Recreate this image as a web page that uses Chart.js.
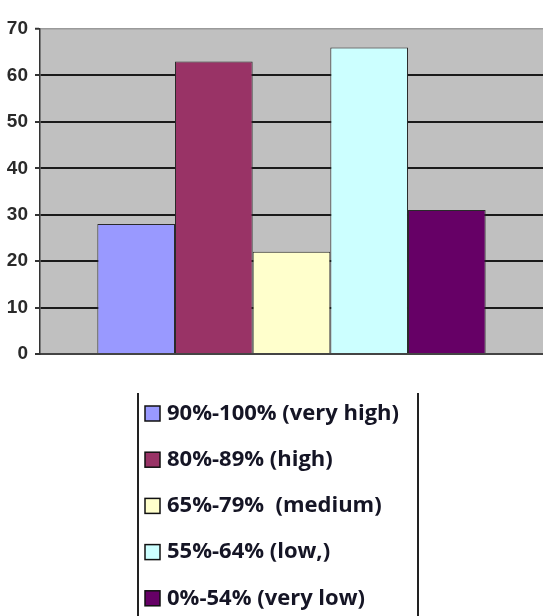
<!DOCTYPE html>
<html>
<head>
<meta charset="utf-8">
<script src="https://cdn.jsdelivr.net/npm/chart.js@4/dist/chart.umd.min.js"></script>
<style>
  html, body { margin: 0; padding: 0; background: #ffffff; }
  #wrap { width: 543px; height: 616px; }
</style>
</head>
<body>
<div id="wrap"><canvas id="c" width="543" height="616"></canvas></div>
<script>
// Share of respondents per score band
const bandLabels = [
  '90%-100% (very high)',
  '80%-89% (high)',
  '65%-79%  (medium)',
  '55%-64% (low,)',
  '0%-54% (very low)'
];
const bandValues = [28, 63, 22, 66, 31];
const bandColors = ['#9999ff', '#993366', '#ffffcc', '#ccffff', '#660066'];
const yTicks = [0, 10, 20, 30, 40, 50, 60, 70];

const datasets = bandLabels.map((label, i) => ({
  label: label,
  data: [bandValues[i]],
  backgroundColor: bandColors[i],
  borderColor: '#2a2a2a',
  borderWidth: 1,
  borderSkipped: 'bottom',
  categoryPercentage: 0.772,
  barPercentage: 1.0
}));

// Grey plot background behind the grid
const plotBackground = {
  id: 'plotBackground',
  beforeDraw(chart) {
    const { ctx, chartArea: a } = chart;
    ctx.save();
    ctx.fillStyle = '#c0c0c0';
    ctx.fillRect(a.left, a.top, a.right - a.left, a.bottom - a.top);
    ctx.restore();
  }
};

// Vertical legend panel under the plot
const bandLegend = {
  id: 'bandLegend',
  afterDraw(chart) {
    const { ctx } = chart;
    const boxLeft = 138, boxRight = 418, boxTop = 393, boxBottom = 616;
    const firstY = 413.5, stepY = 46.2;
    ctx.save();
    ctx.strokeStyle = '#222';
    ctx.lineWidth = 2;
    ctx.beginPath();
    ctx.moveTo(boxLeft, boxTop); ctx.lineTo(boxLeft, boxBottom);
    ctx.moveTo(boxRight, boxTop); ctx.lineTo(boxRight, boxBottom);
    ctx.stroke();
    ctx.font = 'bold 22px "Open Sans", "Noto Sans", sans-serif';
    ctx.textBaseline = 'middle';
    ctx.textAlign = 'left';
    chart.data.datasets.forEach((ds, i) => {
      const cy = firstY + i * stepY;
      ctx.fillStyle = ds.backgroundColor;
      ctx.fillRect(145, cy - 7.5, 15, 15);
      ctx.strokeStyle = '#111';
      ctx.lineWidth = 1.5;
      ctx.strokeRect(145, cy - 7.5, 15, 15);
      ctx.fillStyle = '#151525';
      ctx.fillText(ds.label, 167, cy);
    });
    ctx.restore();
  }
};

new Chart(document.getElementById('c'), {
  type: 'bar',
  data: { labels: [''], datasets: datasets },
  options: {
    responsive: false,
    devicePixelRatio: 1,
    animation: false,
    layout: { padding: { top: 29, left: 0, right: 0, bottom: 262 } },
    plugins: { legend: { display: false }, tooltip: { enabled: false } },
    scales: {
      x: {
        ticks: { display: false },
        grid: { display: false },
        border: { color: '#444', width: 2 },
        afterFit(s) { s.height = 0; }
      },
      y: {
        min: yTicks[0],
        max: yTicks[yTicks.length - 1],
        afterBuildTicks(s) { s.ticks = yTicks.map(v => ({ value: v })); },
        ticks: {
          padding: 7,
          color: '#2a2a2a',
          font: { family: '"Liberation Sans Narrow", "Liberation Sans", sans-serif', size: 19, weight: 'bold' }
        },
        grid: {
          color: c => (c.tick && c.tick.value === 70 ? '#9a9a9a' : '#1a1a1a'),
          lineWidth: c => (c.tick && c.tick.value === 70 ? 1.5 : 2),
          tickLength: 5,
          tickColor: '#333',
          tickWidth: 2
        },
        border: { color: '#333', width: 1.5 },
        afterFit(s) { s.width = 40; }
      }
    }
  },
  plugins: [plotBackground, bandLegend]
});
</script>
</body>
</html>
